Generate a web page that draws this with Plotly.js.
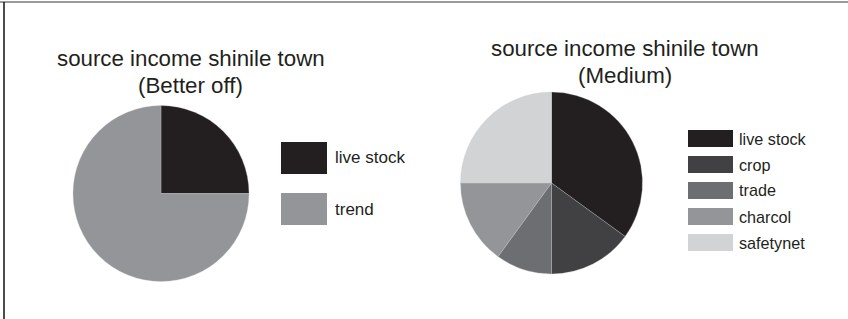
<!DOCTYPE html>
<html>
<head>
<meta charset="utf-8">
<script src="https://cdn.plot.ly/plotly-3.0.1.min.js"></script>
<style>
  html, body { margin: 0; padding: 0; background: #fff; }
  #chart { width: 848px; height: 319px; }
</style>
</head>
<body>
<div id="chart"></div>
<script>
// ---- data ----
const betterOffLabels = ["live stock", "trend"];
const betterOffValues = [25, 75];
const mediumLabels = ["live stock", "crop", "trade", "charcol", "safetynet"];
const mediumValues = [35, 15, 10, 15, 25];
const betterOffTitle = ["source income shinile town", "(Better off)"];
const mediumTitle = ["source income shinile town", "(Medium)"];

// ---- styles ----
const betterOffColors = ["#231f20", "#939598"];
const mediumColors = ["#231f20", "#414042", "#6d6e71", "#939598", "#d1d3d4"];

const W = 848, H = 319;
const px = x => x / W;
const py = y => 1 - y / H;
const FONT = "Liberation Sans, Arial, sans-serif";
const TXT = "#231f20";

function domainFor(cx, cy, r) {
  return { x: [px(cx - r), px(cx + r)], y: [py(cy + r), py(cy - r)] };
}

const traces = [
  {
    type: "pie", labels: betterOffLabels, values: betterOffValues,
    marker: { colors: betterOffColors, line: { color: "#c8c8c8", width: 0.3 } },
    sort: false, direction: "clockwise", rotation: 0,
    textinfo: "none", hoverinfo: "label+value", showlegend: false,
    domain: domainFor(161, 193.5, 88)
  },
  {
    type: "pie", labels: mediumLabels, values: mediumValues,
    marker: { colors: mediumColors, line: { color: "#c8c8c8", width: 0.3 } },
    sort: false, direction: "clockwise", rotation: 0,
    textinfo: "none", hoverinfo: "label+value", showlegend: false,
    domain: domainFor(551.5, 183, 91)
  }
];

const shapes = [];
const annotations = [];

// frame lines
shapes.push({ type: "line", xref: "paper", yref: "paper", x0: px(0), x1: px(W), y0: py(2), y1: py(2), line: { color: "#7a7a7a", width: 1.5 } });
shapes.push({ type: "line", xref: "paper", yref: "paper", x0: px(4), x1: px(4), y0: py(2), y1: py(H), line: { color: "#111111", width: 1.5 } });

// titles (one annotation per line for tighter line spacing)
function title(lines, cx, y0, gap) {
  lines.forEach((ln, i) => {
    annotations.push({ xref: "paper", yref: "paper", x: px(cx), y: py(y0 + i * gap), xanchor: "center", yanchor: "middle",
      showarrow: false, text: ln, font: { family: FONT, size: 22.3, color: TXT } });
  });
}
title(betterOffTitle, 190.5, 59, 26.5);
title(mediumTitle, 624.5, 48.5, 27);

// custom legends
function legend(labels, colors, x0, x1, top0, pitch, h, fontSize, textX) {
  labels.forEach((lab, i) => {
    const t = top0 + i * pitch;
    shapes.push({ type: "rect", xref: "paper", yref: "paper", x0: px(x0), x1: px(x1), y0: py(t + h), y1: py(t),
      fillcolor: colors[i], line: { width: 0 } });
    annotations.push({ xref: "paper", yref: "paper", x: px(textX), y: py(t + h / 2), xanchor: "left", yanchor: "middle",
      showarrow: false, text: lab, font: { family: FONT, size: fontSize, color: TXT } });
  });
}
legend(betterOffLabels, betterOffColors, 281, 327, 142, 51, 32, 17, 333);
legend(mediumLabels, mediumColors, 688, 733, 130, 26, 17, 16.2, 737);

Plotly.newPlot("chart", traces, {
  width: W, height: H,
  margin: { l: 0, r: 0, t: 0, b: 0 },
  paper_bgcolor: "#ffffff",
  showlegend: false,
  shapes: shapes,
  annotations: annotations
}, { displayModeBar: false, staticPlot: true });
</script>
</body>
</html>
